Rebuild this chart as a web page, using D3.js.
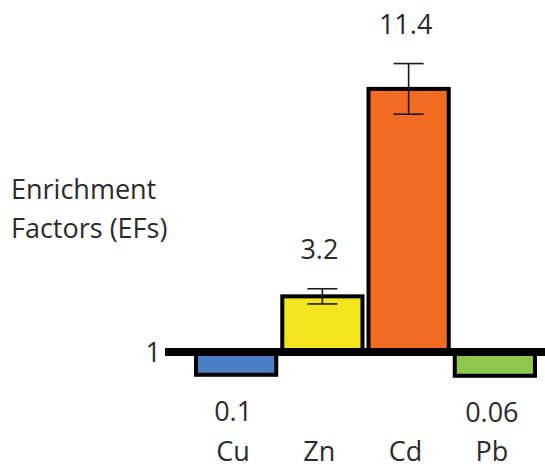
<!DOCTYPE html>
<html>
<head>
<meta charset="utf-8">
<script src="https://cdn.jsdelivr.net/npm/d3@7"></script>
<style>
  html, body { margin: 0; padding: 0; background: #fff; }
  svg { display: block; font-family: "Open Sans", Lato, sans-serif; }
</style>
</head>
<body>
<svg id="chart" width="545" height="468"></svg>
<script>
// data
const metals = ["Cu", "Zn", "Cd", "Pb"]
const efValues = [0.1, 3.2, 11.4, 0.06]
const efErrors = [0, 0.3, 1.0, 0]
const efLabels = ["0.1", "3.2", "11.4", "0.06"]
const barColors = ["#4a7fc4", "#f2e51d", "#f26b22", "#8fc74c"]
const baseValue = 1

const svg = d3.select("#chart")
const textColor = "#2b2b2b"
const fontSize = 27

// scales
const x = d3.scaleBand()
    .domain(metals)
    .range([190, 541])
    .padding(0.07)

const y = d3.scaleLinear()
    .domain([1, 12])
    .range([352, 352 - 11 * 25.3])

const rows = metals.map((m, i) => ({
    name: m,
    value: efValues[i],
    err: efErrors[i],
    label: efLabels[i],
    color: barColors[i]
}))

// bars (drawn from the EF = 1 line)
svg.append("g")
    .selectAll("rect")
    .data(rows)
    .enter()
    .append("rect")
    .attr("x", d => x(d.name))
    .attr("width", x.bandwidth())
    .attr("y", d => d.value >= baseValue ? y(d.value) : y(baseValue) + 2)
    .attr("height", d => d.value >= baseValue
        ? y(baseValue) - y(d.value)
        : y(d.value) - y(baseValue) - 2)
    .attr("fill", d => d.color)
    .attr("stroke", "#000")
    .attr("stroke-width", 4)

// error bars
const errG = svg.append("g")
    .attr("stroke", "#1a1a1a")
    .attr("stroke-width", 1.6)
rows.filter(d => d.err > 0).forEach(d => {
    const cx = x(d.name) + x.bandwidth() / 2
    const capW = 15
    errG.append("line")
        .attr("x1", cx).attr("x2", cx)
        .attr("y1", y(d.value + d.err)).attr("y2", y(d.value - d.err))
    errG.append("line")
        .attr("x1", cx - capW).attr("x2", cx + capW)
        .attr("y1", y(d.value + d.err)).attr("y2", y(d.value + d.err))
    errG.append("line")
        .attr("x1", cx - capW).attr("x2", cx + capW)
        .attr("y1", y(d.value - d.err)).attr("y2", y(d.value - d.err))
})

// baseline at EF = 1
svg.append("line")
    .attr("x1", 165)
    .attr("x2", 545)
    .attr("y1", y(baseValue))
    .attr("y2", y(baseValue))
    .attr("stroke", "#000")
    .attr("stroke-width", 8)

svg.append("text")
    .attr("x", 161)
    .attr("y", y(baseValue) + 10)
    .attr("text-anchor", "end")
    .attr("font-size", fontSize)
    .attr("fill", textColor)
    .text("1")

// value labels
svg.append("g")
    .selectAll("text")
    .data(rows)
    .enter()
    .append("text")
    .attr("x", d => x(d.name) + x.bandwidth() / 2 - 3)
    .attr("y", d => d.value >= baseValue ? y(d.value + d.err) - 30 : y(d.value) + 46)
    .attr("text-anchor", "middle")
    .attr("font-size", fontSize)
    .attr("fill", textColor)
    .text(d => d.label)

// category labels
svg.append("g")
    .selectAll("text")
    .data(rows)
    .enter()
    .append("text")
    .attr("x", d => x(d.name) + x.bandwidth() / 2 - 3)
    .attr("y", 461)
    .attr("text-anchor", "middle")
    .attr("font-size", fontSize)
    .attr("fill", textColor)
    .text(d => d.name)

// y label
const yLabel = svg.append("text")
    .attr("font-size", fontSize)
    .attr("fill", textColor)
yLabel.append("tspan").attr("x", 11).attr("y", 199).text("Enrichment")
yLabel.append("tspan").attr("x", 11).attr("y", 238).text("Factors (EFs)")
</script>
</body>
</html>
